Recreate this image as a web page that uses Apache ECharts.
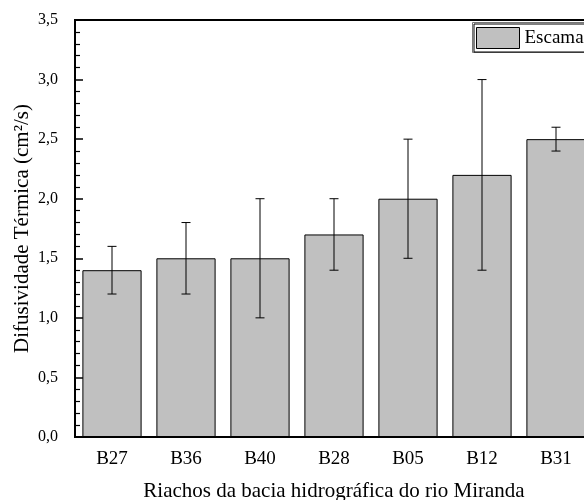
<!DOCTYPE html>
<html>
<head>
<meta charset="utf-8">
<script src="https://cdn.jsdelivr.net/npm/echarts@6/dist/echarts.min.js"></script>
<style>
  html, body { margin: 0; padding: 0; background: #fff; }
  #chart { width: 584px; height: 500px; }
</style>
</head>
<body>
<div id="chart"></div>
<script>
// Streams of the Miranda river basin and their thermal diffusivity
const categories = ['B27', 'B36', 'B40', 'B28', 'B05', 'B12', 'B31'];
const meanValues = [1.4, 1.5, 1.5, 1.7, 2.0, 2.2, 2.5];
const lowerValues = [1.2, 1.2, 1.0, 1.4, 1.5, 1.4, 2.4];
const upperValues = [1.6, 1.8, 2.0, 2.0, 2.5, 3.0, 2.6];
const yTicks = [0, 0.5, 1.0, 1.5, 2.0, 2.5, 3.0, 3.5];

const fontFamily = '"Liberation Serif", "DejaVu Serif", serif';

const errorData = categories.map((c, i) => [i, lowerValues[i], upperValues[i]]);

const chart = echarts.init(document.getElementById('chart'), null, { renderer: 'canvas' });

chart.setOption({
  animation: false,
  backgroundColor: '#ffffff',
  grid: {
    left: 75, top: 20, width: 518, height: 417,
    outerBoundsMode: 'none',
    containLabel: false,
    show: true, borderColor: '#000', borderWidth: 2,
    backgroundColor: 'transparent'
  },
  legend: {
    data: ['Escama'],
    icon: 'rect',
    left: 474, top: 24,
    itemWidth: 43, itemHeight: 21,
    itemGap: 4,
    padding: [3, 40, 3, 2],
    borderColor: '#000', borderWidth: 1,
    backgroundColor: '#fff',
    textStyle: { fontFamily, fontSize: 19, color: '#000', padding: [0, 0, 0, 0] },
    itemStyle: { borderColor: '#000', borderWidth: 1 }
  },
  graphic: [{
    type: 'rect', z: 0,
    shape: { x: 472.5, y: 22.5, width: 140, height: 30 },
    style: { fill: 'none', stroke: '#777', lineWidth: 1 }
  }],
  xAxis: {
    type: 'category',
    data: categories,
    boundaryGap: true,
    name: 'Riachos da bacia hidrográfica do rio Miranda',
    nameLocation: 'middle',
    nameGap: 44,
    nameMoveOverlap: false,
    nameTextStyle: { fontFamily, fontSize: 21, color: '#000' },
    axisLine: { lineStyle: { color: '#000', width: 2 } },
    axisTick: { show: false },
    axisLabel: { fontFamily, fontSize: 19, color: '#000', margin: 13 },
    splitLine: { show: false }
  },
  yAxis: {
    type: 'value',
    min: 0, max: 3.5, interval: 0.5,
    name: 'Difusividade Térmica (cm²/s)',
    nameLocation: 'middle',
    nameGap: 42,
    nameMoveOverlap: false,
    nameTextStyle: { fontFamily, fontSize: 21, color: '#000' },
    axisLine: { show: true, lineStyle: { color: '#000', width: 2 } },
    axisTick: { show: true, inside: true, length: 8, lineStyle: { color: '#000', width: 1.5 } },
    minorTick: { show: true, splitNumber: 5, length: 5, lineStyle: { color: '#000', width: 1.2 } },
    axisLabel: {
      fontFamily, fontSize: 16, color: '#000', margin: 17,
      formatter: v => {
        const t = yTicks.find(k => Math.abs(k - v) < 1e-9);
        return (t !== undefined ? t : v).toFixed(1).replace('.', ',');
      }
    },
    splitLine: { show: false }
  },
  series: [
    {
      name: 'Escama',
      type: 'bar',
      data: meanValues,
      barWidth: '80%',
      itemStyle: { color: '#c0c0c0', borderColor: '#000', borderWidth: 1 },
      z: 2
    },
    {
      name: 'erro',
      type: 'custom',
      data: errorData,
      z: 3,
      renderItem: (params, api) => {
        const idx = api.value(0);
        const lo = api.coord([idx, api.value(1)]);
        const hi = api.coord([idx, api.value(2)]);
        const half = 4.5;
        const style = { stroke: '#000', lineWidth: 1, fill: 'none' };
        return {
          type: 'group',
          children: [
            { type: 'line', shape: { x1: hi[0], y1: hi[1], x2: lo[0], y2: lo[1] }, style },
            { type: 'line', shape: { x1: hi[0] - half, y1: hi[1], x2: hi[0] + half, y2: hi[1] }, style },
            { type: 'line', shape: { x1: lo[0] - half, y1: lo[1], x2: lo[0] + half, y2: lo[1] }, style }
          ]
        };
      }
    }
  ]
});
</script>
</body>
</html>
